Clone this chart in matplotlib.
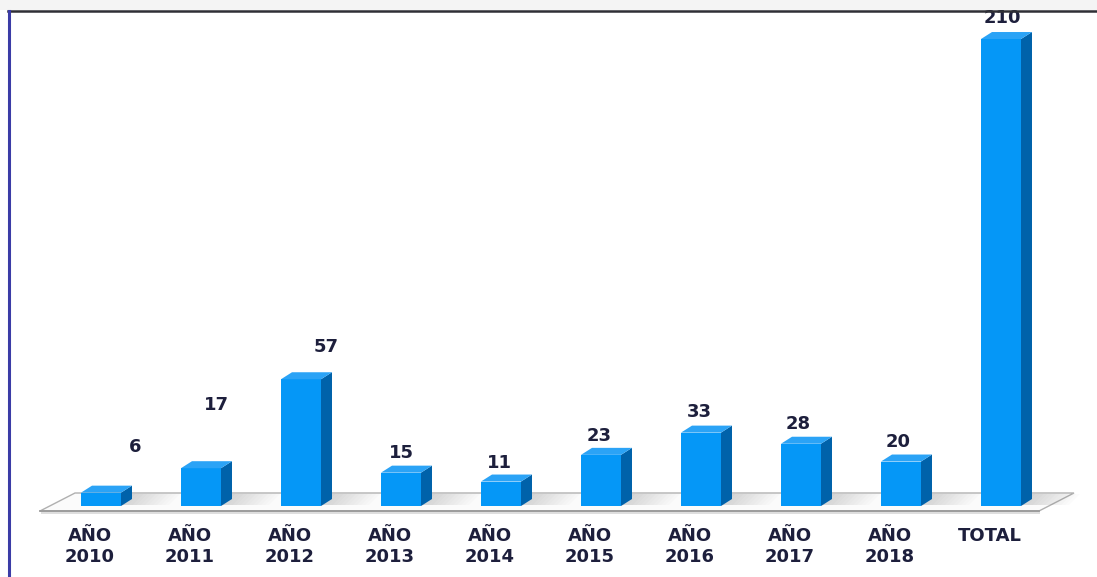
"""Bar chart with a pseudo-3D look: yearly counts plus the total."""

import numpy as np
import matplotlib
matplotlib.use("Agg")
from matplotlib import pyplot as plt
from matplotlib.patches import Polygon, Rectangle
from matplotlib.lines import Line2D
from matplotlib.transforms import IdentityTransform, ScaledTranslation
#--------------------------------------------------------------------------
CATEGORIAS = ["AÑO\n2010", "AÑO\n2011", "AÑO\n2012", "AÑO\n2013", "AÑO\n2014",
              "AÑO\n2015", "AÑO\n2016", "AÑO\n2017", "AÑO\n2018", "TOTAL"]
VALORES = [6, 17, 57, 15, 11, 23, 33, 28, 20, 210]

# where each value label sits, in pixels (dx, height above the bar top)
LABEL_NUDGE = [(34, 46), (15, 63), (25, 32), (0, 20), (-2, 19),
               (-2, 19), (-2, 21), (-3, 20), (-3, 20), (1, 21)]

FRONT = "#0597f7"
SIDE = "#0062aa"
TOP = "#2ba3f6"
TEXT = "#1d1f3c"
DX, DY = 11, 7          # depth of the bars, pixels
FS = 13
#--------------------------------------------------------------------------

W, H = 1097, 577
fig = plt.figure(figsize=(W / 100, H / 100), dpi=100)
fig.patch.set_facecolor("white")

# grey strip + frame lines
fig.patches.append(Rectangle((0, 1 - 10 / H), 1, 10 / H, transform=fig.transFigure,
                             facecolor="#f4f4f4", edgecolor="none"))
fig.lines.append(Line2D([8 / W, 1], [1 - 11 / H, 1 - 11 / H], transform=fig.transFigure,
                        color="#2f2f35", lw=1.8))
fig.lines.append(Line2D([9 / W, 9 / W], [0, 1 - 11 / H], transform=fig.transFigure,
                        color="#3b3ca6", lw=2.2))

ax = fig.add_axes([9 / W, 71 / H, (W - 9) / W, 495 / H])
ax.set_facecolor("none")
for s in ax.spines.values():
    s.set_visible(False)
ax.set_xticks([])
ax.set_yticks([])

x = np.arange(len(VALORES))
ax.set_xlim(-0.92, 9.96)
ax.set_ylim(0, 222.6)

bw = 0.40
bars = ax.bar(x, VALORES, width=bw, color=FRONT, zorder=5)

to_px = ax.transData.transform
ident = IdentityTransform()


def add_poly(pts, **kw):
    ax.add_patch(Polygon(pts, closed=True, transform=ident, clip_on=False, **kw))


# floor under the bars
fl, y0 = to_px((x[0] - 0.61, 0))
fr, _ = to_px((x[-1] + 0.38, 0))
yf = y0 - 5
add_poly([(fl + 1, yf - 3), (fr + 1, yf - 3), (fr + 1, yf), (fl + 1, yf)],
         facecolor="#dedede", edgecolor="none", zorder=1)
add_poly([(fl, yf), (fr, yf), (fr + 35, yf + 18), (fl + 35, yf + 18)],
         facecolor="#fbfbfb", edgecolor="#b0b0b0", lw=1.0, zorder=1.2)
ax.add_line(Line2D([fl, fr], [yf, yf], transform=ident, color="#9a9a9a",
                   lw=1.3, zorder=1.5, clip_on=False))

# soft shadows on the floor, to the right of each bar
for xi in x:
    xr, yb = to_px((xi + bw / 2, 0))
    n = 12
    for k in range(n):
        a0 = xr + DX + k * 4
        a1 = a0 + 4
        add_poly([(a0 - DX, yb + 1), (a1 - DX, yb + 1), (a1, yb + DY + 5), (a0, yb + DY + 5)],
                 facecolor="#6e6e6e", edgecolor="none",
                 alpha=0.28 * (1 - k / n), zorder=2)

# side and top faces of every bar
for xi, v in zip(x, VALORES):
    xl, yt = to_px((xi - bw / 2, v))
    xr, yb = to_px((xi + bw / 2, 0))
    add_poly([(xr, yb), (xr, yt), (xr + DX, yt + DY), (xr + DX, yb + DY)],
             facecolor=SIDE, edgecolor="none", zorder=4)
    add_poly([(xl, yt), (xr, yt), (xr + DX, yt + DY), (xl + DX, yt + DY)],
             facecolor=TOP, edgecolor="none", zorder=6)

# value labels
for xi, v, (ndx, ndy) in zip(x, VALORES, LABEL_NUDGE):
    ax.annotate(str(v), xy=(xi, v), xytext=(ndx * 0.72, ndy * 0.72),
                textcoords="offset points", ha="center", va="center",
                fontsize=FS, fontweight="bold", color=TEXT, zorder=8,
                annotation_clip=False)

# category labels, a little left of the bars
lab_tr = ax.get_xaxis_transform() + ScaledTranslation(-11 / 100, -21 / 100,
                                                      fig.dpi_scale_trans)
for xi, lab in zip(x, CATEGORIAS):
    ax.text(xi, 0, lab, transform=lab_tr, ha="center", va="top",
            fontsize=FS, fontweight="bold", color=TEXT, linespacing=1.25)

fig.savefig("out.png", dpi=100)
